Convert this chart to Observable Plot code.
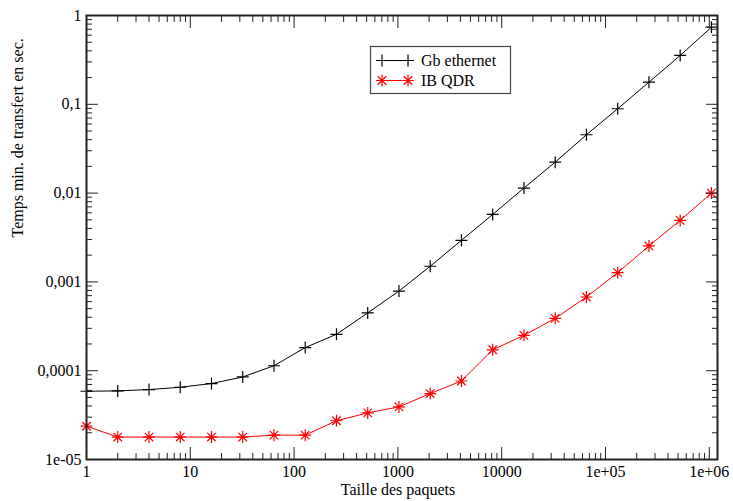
<!DOCTYPE html>
<html><head><meta charset="utf-8">
<script src="https://cdn.jsdelivr.net/npm/d3@7"></script>
<script src="https://cdn.jsdelivr.net/npm/@observablehq/plot@0.6"></script>
<style>
html,body{margin:0;padding:0;background:#fff;}
#chart{position:relative;width:733px;height:501px;}
#legend{position:absolute;left:369px;top:45px;}
</style></head><body><div id="chart"></div>
<script>
const sizes = [1,2,4,8,16,32,64,128,256,512,1024,2048,4096,8192,16384,32768,65536,131072,262144,524288,1048576];
const gbEthernet = [5.87e-5,5.92e-5,6.13e-5,6.51e-5,7.17e-5,8.5e-5,1.137e-4,1.82e-4,2.57e-4,4.47e-4,7.89e-4,1.50e-3,2.94e-3,5.75e-3,1.14e-2,2.23e-2,4.54e-2,8.91e-2,0.1775,0.355,0.738];
const ibQdr = [2.37e-5,1.79e-5,1.79e-5,1.79e-5,1.79e-5,1.79e-5,1.88e-5,1.88e-5,2.73e-5,3.35e-5,3.91e-5,5.53e-5,7.66e-5,1.72e-4,2.5e-4,3.89e-4,6.76e-4,1.27e-3,2.54e-3,4.93e-3,1.0e-2];
const seriesNames = ["Gb ethernet","IB QDR"];
const seriesColors = ["#000000","#ff0000"];
const xTickValues = [1,10,100,1000,10000,1e5,1e6];
const xTickLabels = ["1","10","100","1000","10000","1e+05","1e+06"];
const yTickValues = [1e-5,1e-4,1e-3,1e-2,1e-1,1];
const yTickLabels = ["1e-05","0,0001","0,001","0,01","0,1","1"];
const xTitle = "Taille des paquets";
const yTitle = "Temps min. de transfert en sec.";

const xMinor = [];
for (let d = 0; d < 6; d++) for (let k = 2; k <= 9; k++) xMinor.push(k * Math.pow(10, d));
const yMinor = [];
for (let d = -5; d < 0; d++) for (let k = 2; k <= 9; k++) yMinor.push(k * Math.pow(10, d));

const gbData = sizes.map((s, i) => ({size: s, time: gbEthernet[i]}));
const ibData = sizes.map((s, i) => ({size: s, time: ibQdr[i]}));

const plusSymbol = {draw(ctx, size) {
  const r = Math.sqrt(size / Math.PI);
  ctx.moveTo(-r, 0); ctx.lineTo(r, 0);
  ctx.moveTo(0, -r); ctx.lineTo(0, r);
}};
const starSymbol = {draw(ctx, size) {
  const r = Math.sqrt(size / Math.PI), d = r * 0.7071;
  ctx.moveTo(-r, 0); ctx.lineTo(r, 0);
  ctx.moveTo(0, -r); ctx.lineTo(0, r);
  ctx.moveTo(-d, -d); ctx.lineTo(d, d);
  ctx.moveTo(-d, d); ctx.lineTo(d, -d);
}};

const fmtX = d => xTickLabels[xTickValues.indexOf(d)];
const fmtY = d => yTickLabels[yTickValues.indexOf(d)];
const blank = () => "";
const axisColor = "#222";

const chart = Plot.plot({
  width: 733, height: 501,
  marginLeft: 86, marginRight: 16, marginTop: 15, marginBottom: 42,
  style: {fontFamily: "'Liberation Serif', 'Times New Roman', serif", fontSize: "16px", color: "#000", background: "#fff"},
  x: {type: "log", domain: [1, 1.2e6], axis: null},
  y: {type: "log", domain: [1e-5, 1], axis: null},
  marks: [
    Plot.line(gbData, {x: "size", y: "time", stroke: seriesColors[0], strokeWidth: 1}),
    Plot.line(ibData, {x: "size", y: "time", stroke: seriesColors[1], strokeWidth: 1}),
    Plot.dot(gbData, {x: "size", y: "time", symbol: plusSymbol, r: 6, stroke: seriesColors[0], fill: "none", strokeWidth: 1.2}),
    Plot.dot(ibData, {x: "size", y: "time", symbol: starSymbol, r: 6, stroke: seriesColors[1], fill: "none", strokeWidth: 1.2}),
    // major & minor inward ticks on all four sides
    Plot.axisX(xTickValues, {anchor: "bottom", tickSize: -12, tickFormat: blank, label: null, stroke: axisColor}),
    Plot.axisX(xMinor, {anchor: "bottom", tickSize: -6, tickFormat: blank, label: null, stroke: axisColor}),
    Plot.axisX(xTickValues, {anchor: "top", tickSize: -12, tickFormat: blank, label: null, stroke: axisColor}),
    Plot.axisX(xMinor, {anchor: "top", tickSize: -6, tickFormat: blank, label: null, stroke: axisColor}),
    Plot.axisY(yTickValues, {anchor: "left", tickSize: -12, tickFormat: blank, label: null, stroke: axisColor}),
    Plot.axisY(yMinor, {anchor: "left", tickSize: -6, tickFormat: blank, label: null, stroke: axisColor}),
    Plot.axisY(yTickValues, {anchor: "right", tickSize: -12, tickFormat: blank, label: null, stroke: axisColor}),
    Plot.axisY(yMinor, {anchor: "right", tickSize: -6, tickFormat: blank, label: null, stroke: axisColor}),
    // tick labels
    Plot.axisX(xTickValues, {anchor: "bottom", tickSize: 0, tickPadding: 6, tickFormat: fmtX, label: null, fill: "#000", fontSize: 16}),
    Plot.axisY(yTickValues, {anchor: "left", tickSize: 0, tickPadding: 5, tickFormat: fmtY, label: null, fill: "#000", fontSize: 16}),
    // axis titles
    Plot.text([xTitle], {frameAnchor: "bottom", dy: 35, dx: -4, fontSize: 16, fill: "#000"}),
    Plot.text([yTitle], {frameAnchor: "left", dx: -69, rotate: -90, fontSize: 16, fill: "#000"}),
    Plot.frame({stroke: axisColor, strokeWidth: 2})
  ]
});
const root = document.getElementById("chart");
root.appendChild(chart);

// legend box
const ns = "http://www.w3.org/2000/svg";
const lg = document.createElementNS(ns, "svg");
lg.setAttribute("id", "legend");
lg.setAttribute("width", 143); lg.setAttribute("height", 50);
let html = `<rect x="1.5" y="1.5" width="140" height="47" fill="#fff" stroke="#444" stroke-width="1.2"/>`;
seriesNames.forEach((name, i) => {
  const y = 15.5 + i * 20;
  const c = seriesColors[i];
  html += `<line x1="8" y1="${y}" x2="41" y2="${y}" stroke="${c}" stroke-width="1"/>`;
  [13, 39].forEach(cx => {
    let p = `M${cx-6},${y}L${cx+6},${y}M${cx},${y-6}L${cx},${y+6}`;
    if (i === 1) { const d = 4.24; p += `M${cx-d},${y-d}L${cx+d},${y+d}M${cx-d},${y+d}L${cx+d},${y-d}`; }
    html += `<path d="${p}" stroke="${c}" stroke-width="1.2" fill="none"/>`;
  });
  html += `<text x="52" y="${y + 5.5}" font-family="'Liberation Serif', serif" font-size="16" fill="#000">${name}</text>`;
});
lg.innerHTML = html;
root.appendChild(lg);
</script></body></html>
